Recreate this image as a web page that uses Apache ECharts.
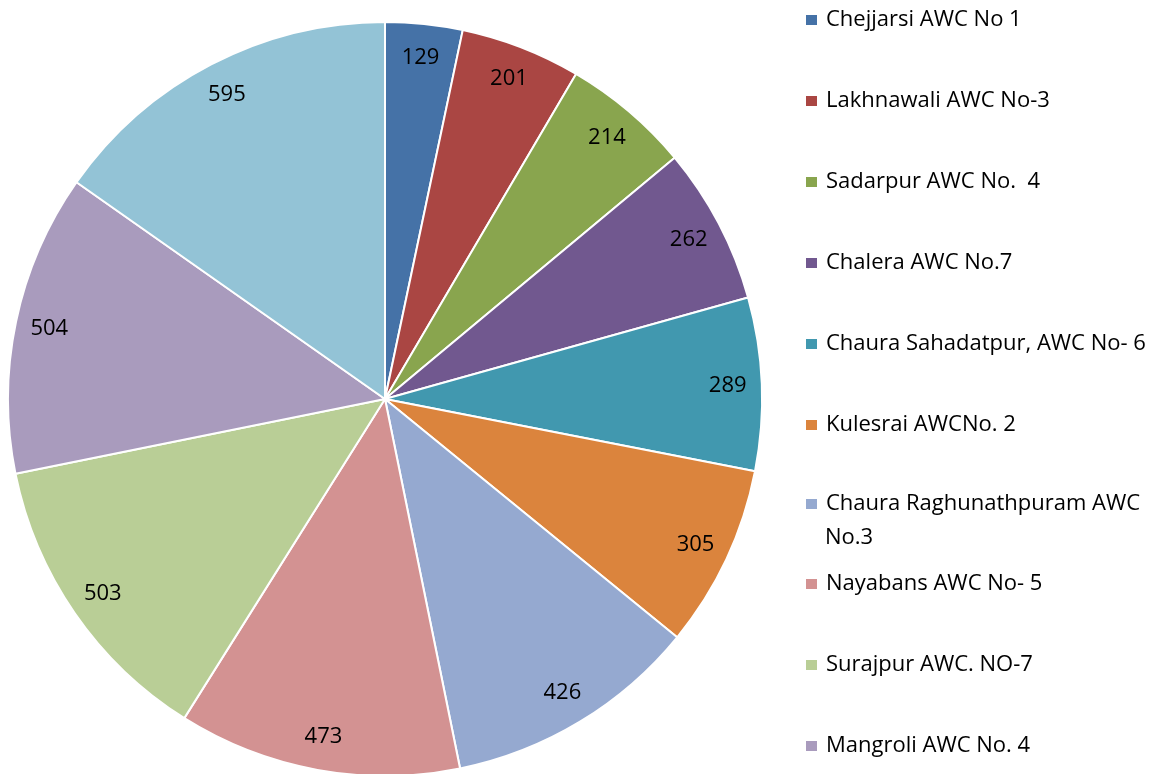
<!DOCTYPE html>
<html>
<head>
<meta charset="utf-8">
<script src="https://cdn.jsdelivr.net/npm/echarts@6/dist/echarts.min.js"></script>
<style>
  html, body { margin: 0; padding: 0; background: #fff; }
  #main { width: 1167px; height: 774px; }
</style>
</head>
<body>
<div id="main"></div>
<script>
  // data
  const names = [
    'Chejjarsi AWC No 1',
    'Lakhnawali AWC No-3',
    'Sadarpur AWC No.  4',
    'Chalera AWC No.7',
    'Chaura Sahadatpur, AWC No- 6',
    'Kulesrai AWCNo. 2',
    'Chaura Raghunathpuram AWC No.3',
    'Nayabans AWC No- 5',
    'Surajpur AWC. NO-7',
    'Mangroli AWC No. 4',
    'AWC 11'
  ];
  const values = [129, 201, 214, 262, 289, 305, 426, 473, 503, 504, 595];
  const colors = ['#4572A7', '#AA4643', '#89A54E', '#71588F', '#4198AF', '#DB843D',
                  '#95A9D0', '#D39292', '#B9CE96', '#A99BBD', '#93C3D6'];

  const pieData = names.map(function (n, i) {
    return { name: n, value: values[i], itemStyle: { color: colors[i] } };
  });

  const font = '"Open Sans", sans-serif';
  const legendBase = {
    orient: 'vertical',
    left: 804,
    padding: 0,
    itemWidth: 13,
    itemHeight: 12,
    itemGap: 57,
    icon: 'rect',
    selectedMode: false,
    textStyle: { fontFamily: font, fontSize: 22, color: '#000', lineHeight: 24, padding: [0, 0, 0, 3] }
  };

  let myChart = echarts.init(document.getElementById('main'));
  let option = {
    animation: false,
    color: colors,
    legend: [
      Object.assign({}, legendBase, { top: 8, data: names.slice(0, 6) }),
      Object.assign({}, legendBase, {
        top: 492,
        data: [names[6]],
        formatter: function () { return 'Chaura Raghunathpuram AWC'; }
      }),
      Object.assign({}, legendBase, { top: 572, data: names.slice(7, 10) })
    ],
    graphic: [
      {
        // wrapped second line of the 7th legend entry
        type: 'text',
        left: 825,
        top: 527,
        style: { text: 'No.3', fontFamily: font, fontSize: 22, fill: '#000' }
      }
    ],
    series: [
      {
        type: 'pie',
        center: [385, 399],
        radius: [0, 377],
        startAngle: 90,
        clockwise: true,
        itemStyle: { borderColor: '#fff', borderWidth: 2 },
        label: { show: false },
        labelLine: { show: false },
        emphasis: { disabled: true },
        data: pieData
      },
      {
        // transparent ring just to carry the value labels near the rim
        type: 'pie',
        center: [385, 399],
        radius: [303, 377],
        startAngle: 90,
        clockwise: true,
        silent: true,
        itemStyle: { color: 'rgba(0,0,0,0)', borderWidth: 0 },
        label: {
          show: true,
          position: 'inside',
          formatter: '{c}',
          fontFamily: font,
          fontSize: 22,
          color: '#000'
        },
        labelLine: { show: false },
        emphasis: { disabled: true },
        data: names.map(function (n, i) { return { name: n, value: values[i] }; })
      }
    ]
  };
  myChart.setOption(option);
</script>
</body>
</html>
